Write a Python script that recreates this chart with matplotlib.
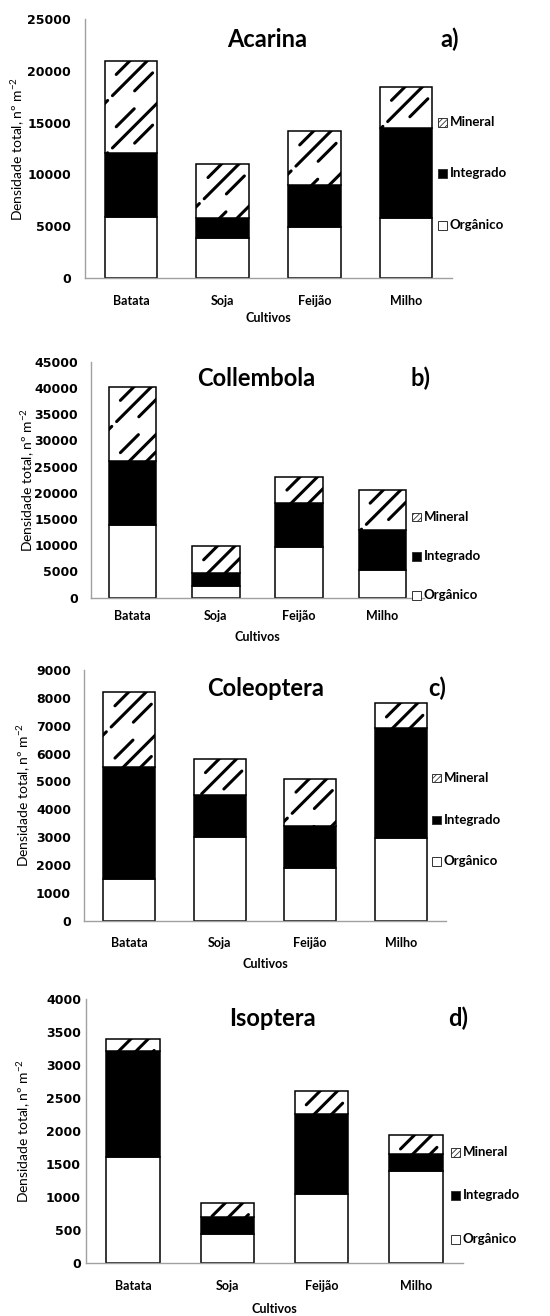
import numpy as np
import matplotlib
matplotlib.use('Agg')
import matplotlib.pyplot as plt
from matplotlib.patches import Rectangle
from matplotlib.collections import LineCollection

plt.rcParams['font.family'] = ['Lato', 'DejaVu Sans']
plt.rcParams['mathtext.fontset'] = 'custom'
plt.rcParams['mathtext.rm'] = 'Lato'
plt.rcParams['mathtext.it'] = 'Lato:italic'
plt.rcParams['mathtext.bf'] = 'Lato:bold'
plt.rcParams['hatch.linewidth'] = 0.6

# ---------------- data ----------------
categories = ['Batata', 'Soja', 'Feijão', 'Milho']
series_names = ['Orgânico', 'Integrado', 'Mineral']
legend_order = ['Mineral', 'Integrado', 'Orgânico']

acarina_org = [5900, 3900, 4900, 5800]
acarina_int = [6200, 1900, 4100, 8700]
acarina_min = [8850, 5200, 5150, 3950]

collembola_org = [13900, 2300, 9700, 5300]
collembola_int = [12200, 2400, 8300, 7700]
collembola_min = [14100, 5100, 5100, 7600]

coleoptera_org = [1500, 3000, 1900, 2970]
coleoptera_int = [4000, 1500, 1500, 3930]
coleoptera_min = [2700, 1300, 1700, 900]

isoptera_org = [1600, 440, 1040, 1390]
isoptera_int = [1610, 250, 1220, 260]
isoptera_min = [190, 220, 340, 280]

titles = ['Acarina', 'Collembola', 'Coleoptera', 'Isoptera']
panel_labels = ['a)', 'b)', 'c)', 'd)']
y_max = [25000, 45000, 9000, 4000]
y_step = [5000, 5000, 1000, 500]

ylabel_text = 'Densidade total, nº m$^{-2}$'
xlabel_text = 'Cultivos'

# ---------------- layout (pixels) ----------------
W, H = 550, 1316
fig = plt.figure(figsize=(W / 100, H / 100), dpi=100)


def fx(px):
    return px / W


def fy(py):
    return 1 - py / H


layout = [
    dict(box=(85, 19, 452, 278), title=(267, 46.7), plab=(450, 46.7),
         leg_x=438, leg_y=(122, 173, 225), ypad=10.0, xpad=11.9,
         ylab_x=26.7, xlab_top=312),
    dict(box=(91, 361.7, 424, 597.7), title=(256, 386), plab=(421, 386),
         leg_x=412, leg_y=(516.7, 556, 595), ypad=9.4, xpad=9.2,
         ylab_x=37, xlab_top=631),
    dict(box=(84, 670, 446, 920.7), title=(266, 696), plab=(437, 696),
         leg_x=432, leg_y=(778, 820, 861), ypad=9.4, xpad=11.4,
         ylab_x=33, xlab_top=958),
    dict(box=(86, 999, 463, 1262.7), title=(272, 1026), plab=(458, 1026),
         leg_x=451, leg_y=(1152, 1195, 1239), ypad=3.6, xpad=12.1,
         ylab_x=33, xlab_top=1303),
]

data = [
    (acarina_org, acarina_int, acarina_min),
    (collembola_org, collembola_int, collembola_min),
    (coleoptera_org, coleoptera_int, coleoptera_min),
    (isoptera_org, isoptera_int, isoptera_min),
]

BAR_W = 0.57
SPINE_C = '#a0a0a0'

# dashed wide-diagonal fill pattern (tile in pixels, anchored at each bar's
# top-left corner); u = x + y_down (across lines), v = x - y_down (along lines)
PAT_P = 52.3
PAT_TYPES = [(25.0, -2.0, 34.0), (42.4, -27.0, 68.0), (59.8, 0.0, 36.0)]


def add_dash_hatch(ax, patch, lw=2.2):
    bb = patch.get_window_extent()
    x0, y0, x1, y1 = bb.x0, bb.y0, bb.x1, bb.y1
    w = x1 - x0
    h = y1 - y0
    segs = []
    vper = 2 * PAT_P
    for (uoff, vs, ve) in PAT_TYPES:
        g0 = int(np.floor(-uoff / PAT_P)) - 1
        g1 = int(np.ceil((w + h - uoff) / PAT_P)) + 1
        for g in range(g0, g1 + 1):
            u = uoff + g * PAT_P
            base_s = vs - g * PAT_P
            base_e = ve - g * PAT_P
            m0 = int(np.floor((-h - base_e) / vper)) - 1
            m1 = int(np.ceil((w - base_s) / vper)) + 1
            for m in range(m0, m1 + 1):
                a = base_s + m * vper
                bnd = base_e + m * vper
                pa = (x0 + (u + a) / 2.0, y1 - (u - a) / 2.0)
                pb = (x0 + (u + bnd) / 2.0, y1 - (u - bnd) / 2.0)
                segs.append([pa, pb])
    inv = ax.transData.inverted()
    segs_data = [inv.transform(np.array(s)) for s in segs]
    lc = LineCollection(segs_data, colors='black', linewidths=lw,
                        transform=ax.transData, zorder=2.5,
                        capstyle='round')
    ax.add_collection(lc, autolim=False)
    lc.set_clip_path(patch)


axes = []
for i, (lay, (org, integ, mine)) in enumerate(zip(layout, data)):
    l, t, r, b = lay['box']
    ax = fig.add_axes([fx(l), fy(b), (r - l) / W, (b - t) / H])
    axes.append(ax)
    x = np.arange(len(categories))
    org = np.array(org, dtype=float)
    integ = np.array(integ, dtype=float)
    mine = np.array(mine, dtype=float)
    ax.bar(x, org, BAR_W, color='white', edgecolor='black', linewidth=1.1, zorder=2)
    ax.bar(x, integ, BAR_W, bottom=org, color='black', edgecolor='black', linewidth=1.1, zorder=2)
    mbars = ax.bar(x, mine, BAR_W, bottom=org + integ, color='white', edgecolor='black',
                   linewidth=1.1, zorder=2)
    ax.set_xlim(-0.5, len(categories) - 0.5)
    ax.set_ylim(0, y_max[i])
    ax.set_yticks(np.arange(0, y_max[i] + 1, y_step[i]))
    ax.set_xticks(x)
    ax.set_xticklabels(categories)
    for s in ('top', 'right'):
        ax.spines[s].set_visible(False)
    for s in ('left', 'bottom'):
        ax.spines[s].set_color(SPINE_C)
        ax.spines[s].set_linewidth(1.0)
    ax.tick_params(axis='y', length=0, pad=lay['ypad'], labelsize=9)
    ax.tick_params(axis='x', length=0, pad=lay['xpad'], labelsize=9)
    for lbl in ax.get_xticklabels():
        lbl.set_fontweight('bold')
    for lbl in ax.get_yticklabels():
        lbl.set_fontweight('bold')
        lbl.set_family('DejaVu Sans')
    ax.set_ylabel(ylabel_text, fontsize=10)
    ax.yaxis.set_label_coords((lay['ylab_x'] - l) / (r - l), 0.5)
    ax.set_xlabel(xlabel_text, fontsize=9, fontweight='bold')
    ax.xaxis.set_label_coords(0.5, (b - lay['xlab_top']) / (b - t))

    fig.text(fx(lay['title'][0]), fy(lay['title'][1]), titles[i], ha='center',
             va='baseline', fontsize=17, fontweight='bold')
    fig.text(fx(lay['plab'][0]), fy(lay['plab'][1]), panel_labels[i], ha='center',
             va='baseline', fontsize=17, fontweight='bold')

    for bar in mbars:
        add_dash_hatch(ax, bar)

    # legend entries
    mx = lay['leg_x']
    for name, yc in zip(legend_order, lay['leg_y']):
        if name == 'Mineral':
            fc, hatch = 'white', '//////'
        elif name == 'Integrado':
            fc, hatch = 'black', None
        else:
            fc, hatch = 'white', None
        rect = Rectangle((fx(mx), fy(yc) - 4.5 / H), 8.5 / W, 8.5 / H,
                         transform=fig.transFigure, facecolor=fc,
                         edgecolor='#333333', linewidth=0.7, hatch=hatch)
        fig.add_artist(rect)
        fig.text(fx(mx + 11.5), fy(yc), name, ha='left', va='center',
                 fontsize=9.5, fontweight='bold')

fig.savefig('out.png', dpi=100)
